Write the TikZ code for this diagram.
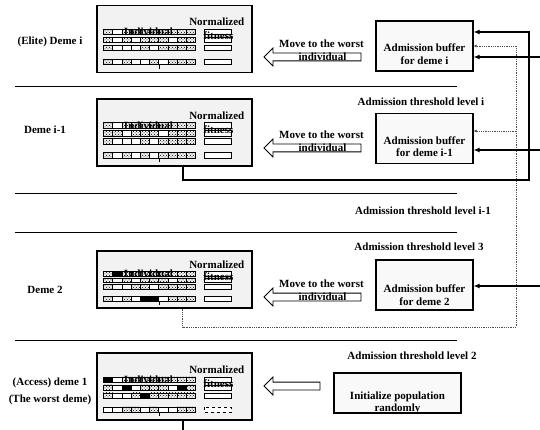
\documentclass[tikz,border=0pt]{standalone}
\usepackage{fontspec}
\setmainfont{Liberation Serif}
\usetikzlibrary{arrows.meta,calc,patterns,positioning,shapes.arrows}

% bars of one deme: #1 scope options, #2 style of last fitness bar, #3-#6 cells
\newcommand{\genome}[6]{%
  \begin{scope}[#1]
    \foreach \ry/\row/\fs in {27/{#3}/solid,35/{#4}/solid,43/{#5}/solid,57/{#6}/#2}{
      \foreach \c [count=\k] in \row
        \draw[cell\c] ({7+9.2*(\k-1)},{\ry-2.75}) rectangle ++(9.2,5.5);
      \draw[\fs, fill=white] (108,{\ry-2.75}) rectangle ++(27,5.5);
    }
    \draw[thick] (63,59.75) -- (63,64);
    \node[anchor=east] at (149,17) {Normalized};
    \node at (52,27) {Individual};
    \node at (122,31) {fitness};
  \end{scope}}

\begin{document}
\begin{tikzpicture}[x=1pt, y=-1pt,
  every node/.style={font=\fontsize{11}{12.5}\selectfont\bfseries, inner sep=1pt},
  deme/.style={draw, line width=1.1pt, fill=gray!10, minimum width=155pt, minimum height=67pt},
  buffer/.style={draw, line width=1.1pt, fill=gray!5, minimum width=97pt, minimum height=50pt},
  move/.style={single arrow, draw, thick, fill=white, shape border rotate=180,
    inner sep=3.5pt, single arrow head extend=5pt, minimum height=97pt},
  cell0/.style={draw, fill=white},
  cell1/.style={draw, pattern=crosshatch dots},
  cell2/.style={draw, fill=black},
  feed/.style={line width=1.2pt, -{Latex[length=6pt,width=5pt]}},
  migr/.style={densely dotted, thick, gray!60!black, -{Latex[length=3pt,width=3pt]}},
  sep/.style={line width=0.9pt}]
  \useasboundingbox (0,0) rectangle (540,430);

  % separators between the levels
  \foreach \yy in {86,193,232,340}
    \draw[sep] (15,\yy) -- (457,\yy);

  % demes
  \node[deme] (demeI) at (174.5,39) {};
  \node[deme] (demeIm) at (174.5,132.5) {};
  \node[deme, minimum height=57pt] (demeTwo) at (174.5,279.5) {};
  \node[deme] (demeOne) at (174.5,386.5) {};
  \genome{shift={(demeI.north west)}}{solid}
    {1,0,1,1,1,1,1,1,1,1}{1,0,1,0,1,1,1,0,1,1}{1,0,0,0,1,0,1,1,1,1}{1,0,1,0,0,1,0,1,1,1}
  \genome{shift={(demeIm.north west)}}{solid}
    {1,0,1,1,1,1,1,1,1,1}{1,1,0,1,1,1,0,1,1,1}{1,0,0,0,1,0,1,1,1,1}{1,0,1,0,1,0,1,1,1,1}
  \genome{shift={(demeTwo.north west)}, yscale=0.85}{solid}
    {1,2,1,1,1,1,1,1,1,1}{1,0,1,0,1,1,1,0,1,1}{1,0,0,1,1,0,1,1,1,1}{1,0,1,0,2,2,0,1,1,1}
  \genome{shift={(demeOne.north west)}}{dashed}
    {2,0,1,1,1,1,1,1,1,1}{1,0,2,0,1,1,1,0,2,1}{1,0,0,1,2,1,1,1,1,1}{0,0,1,1,0,1,0,0,1,1}

  \node (labI) at (50,42) {(Elite) Deme i};
  \node (labIm) at (45,130) {Deme i-1};
  \node (labTwo) at (45,290) {Deme 2};
  \node[align=center, font=\fontsize{11}{17}\selectfont\bfseries] (labOne) at (50,391)
    {(Access) deme 1\\(The worst deme)};

  % buffers
  \node[buffer] (bufI) at (424.5,46) {};
  \node[buffer] (bufIm) at (424.5,138.5) {};
  \node[buffer] (bufTwo) at (424.5,285) {};
  \node[buffer, minimum width=127pt, minimum height=40pt] (init) at (397.5,393) {};
  \node[align=center] (txI) at ($(bufI.center)+(0,8)$) {Admission buffer\\for deme i};
  \node[align=center] (txIm) at ($(bufIm.center)+(0,8)$) {Admission buffer\\for deme i-1};
  \node[align=center] (txTwo) at ($(bufTwo.center)+(0,10)$) {Admission buffer\\for deme 2};
  \node[align=center] (txInit) at ($(init.center)+(0,10)$) {Initialize population\\randomly};

  \node (thI) at (421,102) {Admission threshold level i};
  \node (thIm) at (423,211) {Admission threshold level i-1};
  \node (thThree) at (419,247) {Admission threshold level 3};
  \node (thTwo) at (412,356) {Admission threshold level 2};

  % hollow arrows
  \node[move] (arrI) at (314.5,57) {};
  \node[move] (arrIm) at (314.5,148) {};
  \node[move] (arrTwo) at (314.5,297) {};
  \node[move, minimum height=56pt] (arrOne) at (294,386) {};
  \node at ([xshift=7pt, yshift=13pt]arrI.center) (mvI) {Move to the worst};
  \node at ([xshift=7pt, yshift=13pt]arrIm.center) (mvIm) {Move to the worst};
  \node at ([xshift=7pt, yshift=13pt]arrTwo.center) (mvTwo) {Move to the worst};
  \node at ([xshift=8pt]arrI.center) (indI) {individual};
  \node at ([xshift=8pt]arrIm.center) (indIm) {individual};
  \node at ([xshift=8pt]arrTwo.center) (indTwo) {individual};

  % migration connectors
  \coordinate (dnTwo) at (516,327);
  \coordinate (inIm) at ([yshift=7.5pt]bufIm.east);
  \draw[migr] ([xshift=8pt]demeTwo.south) |- (dnTwo) |- (bufI.east);
  \draw[migr] (inIm -| dnTwo) -- (inIm);

  \coordinate (upI) at (529,180);
  \draw[feed] ([xshift=8.5pt]demeIm.south) |- (upI) |- ([yshift=14pt]bufI.east);
  \draw[line width=1.2pt] ([xshift=8.5pt]demeOne.south) -- ++(0,10);

  \coordinate (srcI) at (540,57);
  \coordinate (srcIm) at (540,150);
  \coordinate (srcTwo) at (540,286);
  \draw[feed] (srcI) -- (srcI -| bufI.east);
  \draw[feed] (srcIm) -- (srcIm -| bufIm.east);
  \draw[feed] (srcTwo) -- (srcTwo -| bufTwo.east);
\end{tikzpicture}
\end{document}
